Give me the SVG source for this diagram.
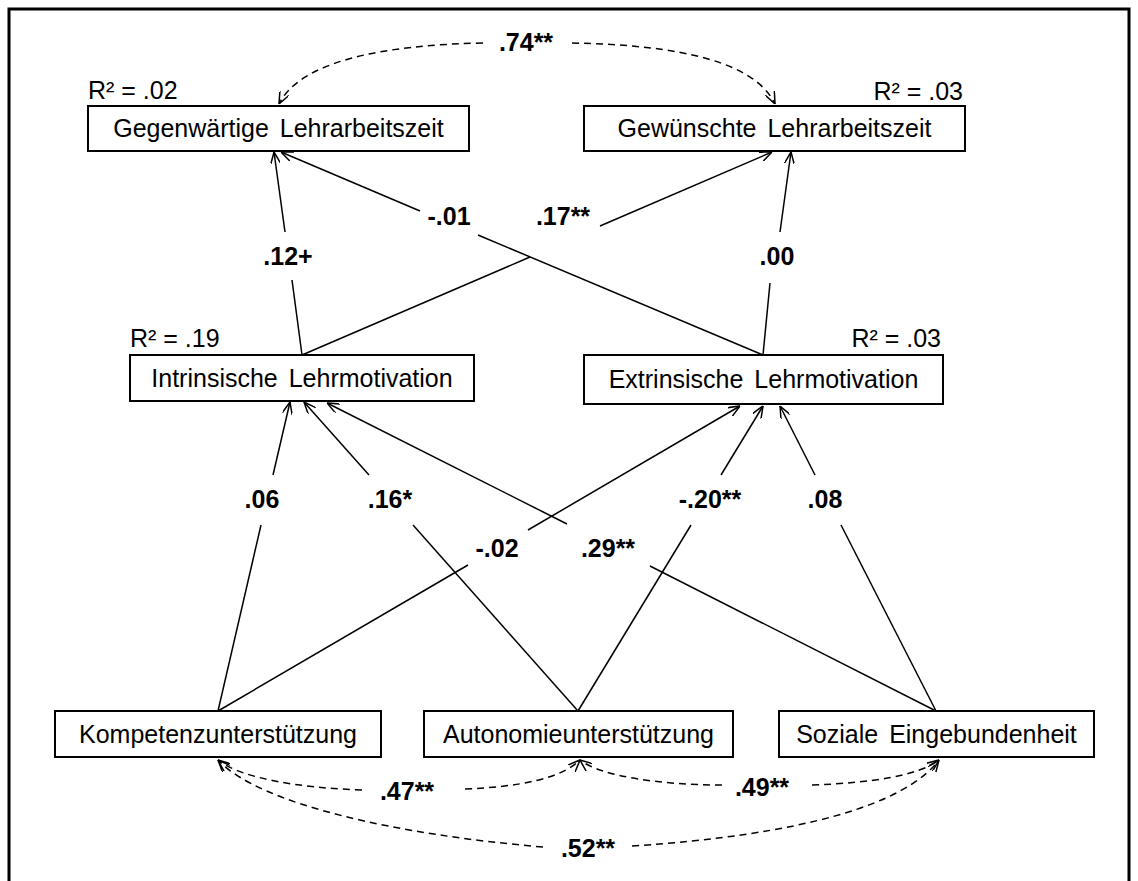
<svg xmlns="http://www.w3.org/2000/svg" width="1138" height="881" viewBox="0 0 1138 881">
<defs>
<style>
.box{fill:#fff;stroke:#000;stroke-width:2}
.t{font-family:"Liberation Sans",Arial,sans-serif;font-size:25px;fill:#000;text-anchor:middle;word-spacing:4px}
.r{font-family:"Liberation Sans",Arial,sans-serif;font-size:25px;fill:#000}
.lb{font-family:"Liberation Sans",Arial,sans-serif;font-size:25px;font-weight:bold;fill:#000;text-anchor:middle}
.ln{fill:none;stroke:#000;stroke-width:1.5}
.ds{fill:none;stroke:#000;stroke-width:1.5;stroke-dasharray:7 5}
</style>
<marker id="ah" viewBox="0 0 12 10" refX="12" refY="5" markerWidth="12" markerHeight="10" markerUnits="userSpaceOnUse" orient="auto">
<path d="M0,0 L12,5 L0,10" fill="none" stroke="#000" stroke-width="1.5" stroke-dasharray="none"/>
</marker>
</defs>
<rect width="1138" height="881" fill="#fff"/>
<path d="M9,881 V9 H1129 V881" fill="none" stroke="#000" stroke-width="3"/>

<g id="connectors">
<path class="ds" d="M483,43 C380,45 300,62 279,104" marker-end="url(#ah)"/>
<path class="ds" d="M572,43 C680,45 755,62 775,104" marker-end="url(#ah)"/>
<path class="ln" d="M302,355 L292,280"/>
<path class="ln" d="M285,232 L274,152" marker-end="url(#ah)"/>
<path class="ln" d="M763,355 L478,235"/>
<path class="ln" d="M420,211 L281,152" marker-end="url(#ah)"/>
<path class="ln" d="M302,355 L530,257"/>
<path class="ln" d="M600,226 L772,152" marker-end="url(#ah)"/>
<path class="ln" d="M763,355 L770,283"/>
<path class="ln" d="M780,232 L791,152" marker-end="url(#ah)"/>
<path class="ln" d="M218,711 L261,525"/>
<path class="ln" d="M273,475 L290,402" marker-end="url(#ah)"/>
<path class="ln" d="M578,711 L413,525"/>
<path class="ln" d="M369,475 L304,402" marker-end="url(#ah)"/>
<path class="ln" d="M578,711 L691,525"/>
<path class="ln" d="M721,475 L763,406" marker-end="url(#ah)"/>
<path class="ln" d="M936,711 L841,525"/>
<path class="ln" d="M815,475 L780,406" marker-end="url(#ah)"/>
<path class="ln" d="M218,711 L468,565"/>
<path class="ln" d="M528,530 L740,406" marker-end="url(#ah)"/>
<path class="ln" d="M936,711 L650,566"/>
<path class="ln" d="M567,524 L327,403" marker-end="url(#ah)"/>
<path class="ds" d="M362,790 C300,788 240,778 218,760" marker-end="url(#ah)"/>
<path class="ds" d="M465,789 C520,787 562,778 580,760" marker-end="url(#ah)"/>
<path class="ds" d="M722,785 C660,785 600,776 580,760" marker-end="url(#ah)"/>
<path class="ds" d="M812,785 C870,783 918,776 939,760" marker-end="url(#ah)"/>
<path class="ds" d="M543,847 C400,835 260,805 218,760" marker-end="url(#ah)"/>
<path class="ds" d="M632,846 C800,835 905,805 939,760" marker-end="url(#ah)"/>
</g>

<g id="labels">
<text class="lb" x="526" y="51">.74**</text>
<text class="lb" x="288" y="265">.12+</text>
<text class="lb" x="449" y="225">-.01</text>
<text class="lb" x="563" y="225">.17**</text>
<text class="lb" x="777" y="265">.00</text>
<text class="lb" x="262" y="508">.06</text>
<text class="lb" x="390" y="508">.16*</text>
<text class="lb" x="710" y="508">-.20**</text>
<text class="lb" x="825" y="508">.08</text>
<text class="lb" x="497" y="557">-.02</text>
<text class="lb" x="608" y="557">.29**</text>
<text class="lb" x="407" y="800">.47**</text>
<text class="lb" x="762" y="796">.49**</text>
<text class="lb" x="588" y="857">.52**</text>
</g>

<g id="n-gegen">
<rect class="box" x="88" y="106" width="381" height="45"/>
<text class="t" x="278.5" y="137">Gegenwärtige Lehrarbeitszeit</text>
<text class="r" x="88" y="99">R² = .02</text>
</g>
<g id="n-gewuen">
<rect class="box" x="584" y="106" width="381" height="45"/>
<text class="t" x="774.5" y="137">Gewünschte Lehrarbeitszeit</text>
<text class="r" x="963" y="100" text-anchor="end">R² = .03</text>
</g>
<g id="n-intr">
<rect class="box" x="130" y="355" width="344" height="46"/>
<text class="t" x="302" y="387">Intrinsische Lehrmotivation</text>
<text class="r" x="130" y="347">R² = .19</text>
</g>
<g id="n-extr">
<rect class="box" x="584" y="355" width="359" height="49"/>
<text class="t" x="763.5" y="388">Extrinsische Lehrmotivation</text>
<text class="r" x="941" y="347" text-anchor="end">R² = .03</text>
</g>
<g id="n-komp">
<rect class="box" x="55" y="711" width="326" height="46"/>
<text class="t" x="218" y="743">Kompetenzunterstützung</text>
</g>
<g id="n-auto">
<rect class="box" x="424" y="711" width="309" height="46"/>
<text class="t" x="578.5" y="743">Autonomieunterstützung</text>
</g>
<g id="n-soz">
<rect class="box" x="779" y="711" width="315" height="46"/>
<text class="t" x="936.5" y="743">Soziale Eingebundenheit</text>
</g>
</svg>
